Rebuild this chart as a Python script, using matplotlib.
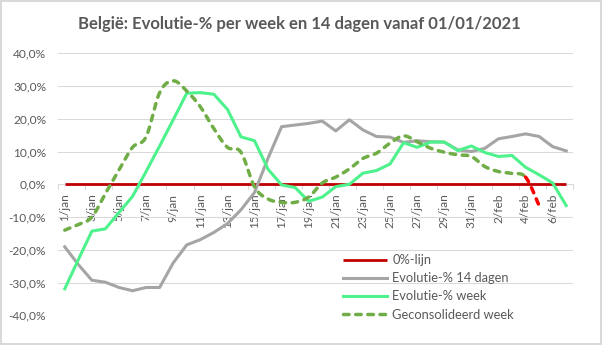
import numpy as np
import matplotlib.pyplot as plt

plt.rcParams['font.family'] = ['Lato', 'DejaVu Sans']

# daily categories, 1 jan - 7 feb 2021
dates = [f'{d}/jan' for d in range(1, 32)] + [f'{d}/feb' for d in range(1, 8)]

zero_line = [0.0] * len(dates)

evol_14d = [-19.1, -24.5, -29.3, -29.9, -31.5, -32.5, -31.5, -31.5, -24.0, -18.5,
            -16.9, -14.7, -12.0, -7.8, -2.5, 8.0, 17.6, 18.1, 18.6, 19.3,
            16.3, 19.7, 16.6, 14.6, 14.4, 12.8, 13.3, 13.0, 12.9, 10.5,
            10.0, 11.0, 13.9, 14.6, 15.4, 14.6, 11.5, 10.2]

evol_week = [-31.9, -23.0, -14.3, -13.6, -8.6, -3.7, 3.9, 11.7, 19.7, 27.8,
             28.0, 27.5, 22.9, 14.5, 13.3, 4.6, -0.2, -1.0, -5.2, -3.9,
             -0.7, 0.0, 3.4, 4.2, 6.2, 12.7, 11.3, 12.9, 12.9, 10.3,
             11.7, 9.7, 8.5, 8.8, 5.2, 2.9, 0.4, -6.5]

# consolidated series stops at 5/feb, last step shown in red
consol_week = [-14.0, -12.3, -10.0, -2.8, 4.3, 11.3, 14.5, 28.0, 31.6, 28.5,
               23.7, 17.0, 11.3, 9.8, -0.8, -4.5, -5.5, -5.5, -3.9, 0.4,
               2.2, 4.7, 7.9, 9.5, 12.6, 14.8, 13.0, 11.0, 9.8, 9.0,
               8.5, 5.4, 3.9, 3.3, 2.2, -6.5]

TXT = '#595959'
GRID = '#D9D9D9'


def smooth(xs, ys, n=16):
    # bezier smoothing through the points (like a smoothed spreadsheet line)
    p = np.column_stack([xs, ys]).astype(float)
    p = np.vstack([p[0], p, p[-1]])
    t = np.linspace(0, 1, n)[:, None]
    out = []
    for i in range(1, len(p) - 2):
        p0, p1, p2, p3 = p[i - 1], p[i], p[i + 1], p[i + 2]
        c1 = p1 + (p2 - p0) / 6
        c2 = p2 - (p3 - p1) / 6
        seg = ((1 - t) ** 3) * p1 + 3 * ((1 - t) ** 2) * t * c1 + 3 * (1 - t) * t ** 2 * c2 + t ** 3 * p2
        out.append(seg if i == 1 else seg[1:])
    out = np.vstack(out)
    return out[:, 0], out[:, 1]


fig = plt.figure(figsize=(6.02, 3.45), dpi=100, edgecolor=GRID, linewidth=1.5)
ax = fig.add_axes([58 / 602, 1 - 315.3 / 345, 515 / 602, 262 / 345])

x = np.arange(len(dates))
ax.plot(x, zero_line, color='#C00000', lw=2.0, label='0%-lijn', solid_capstyle='butt', zorder=3)
ax.plot(x, evol_14d, color='#A5A5A5', lw=2.2, label='Evolutie-% 14 dagen', zorder=3)
ax.plot(x, evol_week, color='#4DF28C', lw=2.2, label='Evolutie-% week', zorder=3)

sx, sy = smooth(x[:len(consol_week)], consol_week)
last = len(consol_week) - 2
dash = (0, (1.6, 1.9))
m1 = sx <= last + 1e-9
m2 = sx >= last - 1e-9
ax.plot(sx[m1], sy[m1], color='#70AD47', lw=2.5, ls=dash, dash_capstyle='round',
        label='Geconsolideerd week', zorder=3)
ax.plot(sx[m2], sy[m2], color='#FF0000', lw=2.5, ls=dash, dash_capstyle='round', zorder=3)

ax.set_xlim(-0.5, len(dates) - 0.5)
ax.set_ylim(-40, 40)

yticks = np.arange(-40, 41, 10)
ax.set_yticks(yticks)
ax.set_yticklabels([f'{v:.1f}%'.replace('.', ',') for v in yticks])
ax.grid(axis='y', color=GRID, lw=0.75)
ax.set_axisbelow(True)

for s in ('left', 'right', 'top'):
    ax.spines[s].set_visible(False)
ax.spines['bottom'].set_position(('data', 0))
ax.spines['bottom'].set_color(GRID)
ax.spines['bottom'].set_linewidth(0.75)
ax.spines['bottom'].set_zorder(1)

ax.tick_params(axis='y', length=0, pad=8.5, labelsize=8.6, labelcolor=TXT)
ax.set_xticks(x[::2])
ax.set_xticklabels(dates[::2], rotation=90)
ax.set_xticks(np.arange(-0.5, len(dates), 2), minor=True)
ax.tick_params(axis='x', which='major', length=0, pad=6.8, labelsize=8.6, labelcolor=TXT)
ax.tick_params(axis='x', which='minor', length=3.6, width=0.75, color=GRID)

fig.legend(loc='center left', bbox_to_anchor=(343.3 / 602, 1 - 287.4 / 345),
           frameon=False, fontsize=9.3, labelcolor=TXT, borderpad=0, borderaxespad=0,
           handlelength=3.4, handletextpad=0.4, labelspacing=0.48)

fig.text(299 / 602, 1 - 29.3 / 345, 'België: Evolutie-% per week en 14 dagen vanaf 01/01/2021',
         ha='center', va='baseline', fontsize=12, fontweight='bold', color=TXT)

fig.savefig('out.png', dpi=100)
